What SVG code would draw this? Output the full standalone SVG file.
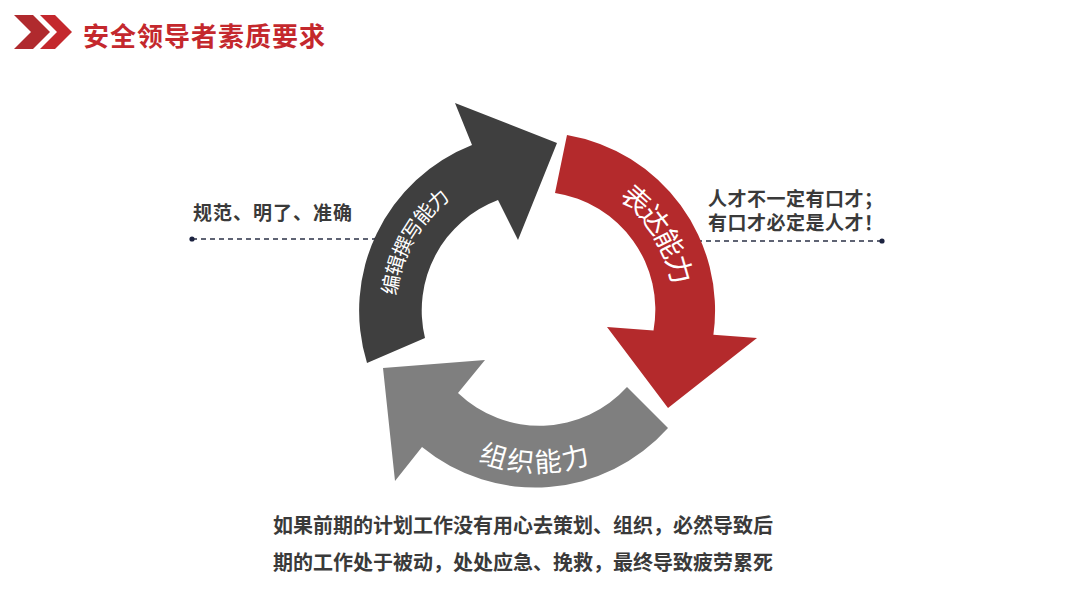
<svg xmlns="http://www.w3.org/2000/svg" width="1080" height="608" viewBox="0 0 1080 608">
<defs>
<style>
.t{font-family:"Liberation Sans","Noto Sans CJK SC",sans-serif;font-weight:bold;fill:#3a3a3a}
.lbl{font-family:"Noto Sans CJK SC",sans-serif;font-weight:400;fill:#ffffff;dominant-baseline:central}
.dash{stroke:#2a3045;stroke-width:1.3;stroke-dasharray:5 4;fill:none}
.dot{fill:#1c2340}
</style>
<path id="pDark" d="M 396.96 363.76 A 150 150 0 0 1 508.38 162.76"/>
<path id="pRed" d="M 557.87 161.46 A 150 150 0 0 1 679.66 356.35"/>
<path id="pGray" d="M 420.43 404.40 A 150 150 0 0 0 650.21 408.41"/>
</defs>
<rect width="1080" height="608" fill="#ffffff"/>
<g id="title">
<polygon points="14,15 33,15 50,32 33,49 14,49 31,32" fill="#b02a2e"/>
<polygon points="40,15 55,15 72,32 55,49 40,49 57,32" fill="#c4282d"/>
<text x="83" y="46" font-family="Liberation Sans,'Noto Sans CJK SC',sans-serif" font-weight="bold" font-size="26" letter-spacing="1" fill="#c4282d">安全领导者素质要求</text>
</g>
<g id="connectors">
<line class="dash" x1="192" y1="239" x2="377" y2="239"/>
<circle class="dot" cx="192" cy="239" r="2.6"/>
<circle class="dot" cx="377" cy="239" r="2.6"/>
<line class="dash" x1="697" y1="241" x2="882" y2="241"/>
<circle class="dot" cx="697" cy="241" r="2.6"/>
<circle class="dot" cx="882" cy="241" r="2.6"/>
</g>
<g id="arrow-writing">
<path d="M 367 363 A 178 178 0 0 1 472 145 L 455 103 L 557 143 L 518 240 L 498 200 A 118 118 0 0 0 425 338 Z" fill="#3f3f3f"/>
<text class="lbl" font-size="20"><textPath href="#pDark" startOffset="50%" text-anchor="middle">编辑撰写能力</textPath></text>
</g>
<g id="arrow-express">
<path d="M 567 135 A 178 178 0 0 1 713.4 334.8 L 757 338 L 668 408 L 607 327 L 653.5 330.4 A 118 118 0 0 0 555 193 Z" fill="#b42a2c"/>
<text class="lbl" font-size="28"><textPath href="#pRed" startOffset="50%" text-anchor="middle">表达能力</textPath></text>
</g>
<g id="arrow-organize">
<path d="M 668 428 A 178 178 0 0 1 422 447 L 395 481 L 383 368 L 485 360 L 458 393 A 118 118 0 0 0 627 387 Z" fill="#7f7f7f"/>
<text class="lbl" font-size="27"><textPath href="#pGray" startOffset="50%" text-anchor="middle">组织能力</textPath></text>
</g>
<g id="note-left">
<text class="t" x="193" y="219.5" font-size="19" letter-spacing="1">规范、明了、准确</text>
</g>
<g id="note-right">
<text class="t" x="708" y="205.5" font-size="19" letter-spacing="0.5">人才不一定有口才；</text>
<text class="t" x="708" y="230" font-size="19" letter-spacing="0.5">有口才必定是人才！</text>
</g>
<g id="note-bottom">
<text class="t" x="273" y="532.5" font-size="20">如果前期的计划工作没有用心去策划、组织，必然导致后</text>
<text class="t" x="273" y="570" font-size="20">期的工作处于被动，处处应急、挽救，最终导致疲劳累死</text>
</g>
</svg>
